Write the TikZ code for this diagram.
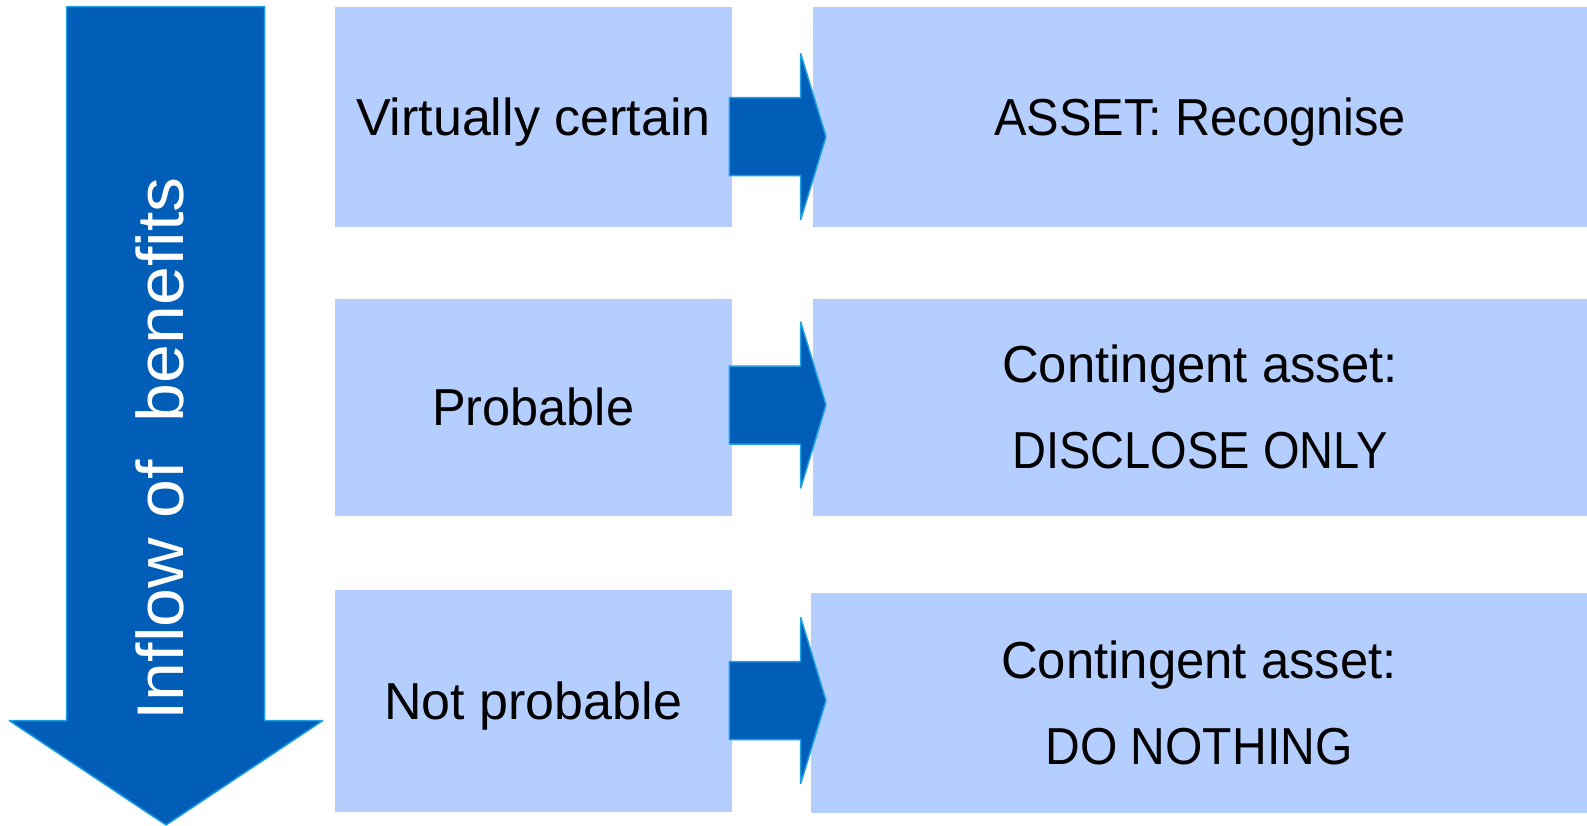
\documentclass[tikz,border=0pt]{standalone}
\usepackage{fontspec}
\setmainfont{Liberation Sans}
\definecolor{darkblue}{HTML}{005EB8}
\definecolor{edgeblue}{HTML}{1E9FE0}
\definecolor{lightbox}{HTML}{B4CFFF}
\newcommand{\narrow}[2]{\scalebox{#1}[1]{#2}}
\begin{document}
\begin{tikzpicture}[x=1pt,y=-1pt,
  box/.style={fill=lightbox, draw=none, inner sep=0pt, align=center,
    font=\fontsize{52}{86}\selectfont, text=black},
  oneline/.style={box, text height=37.2pt, text depth=0pt},
  blockarrow/.style={fill=darkblue, draw=edgeblue, line width=1.5pt, line join=round}]
\useasboundingbox (0,0) rectangle (1587,826);
% left boxes
\node[oneline, minimum width=396.7pt, minimum height=220pt] (l1) at (533.3,116.7) {Virtually certain};
\node[oneline, minimum width=396.7pt, minimum height=217.5pt] (l2) at (533.3,407.25) {\narrow{0.97}{Probable}};
\node[oneline, minimum width=396.7pt, minimum height=222pt] (l3) at (533.3,701) {Not probable};
% right boxes
\node[oneline, minimum width=774pt, minimum height=220pt] (r1) at (1200,116.7) {\narrow{0.9375}{ASSET: Recognise}};
\node[box, minimum width=774pt, minimum height=217.5pt] (r2) at (1200,407.25) {\narrow{0.977}{Contingent asset:}\\\narrow{0.904}{DISCLOSE ONLY}};
\node[box, minimum width=776pt, minimum height=219.7pt] (r3) at (1199,702.8) {\narrow{0.977}{Contingent asset:}\\\narrow{0.924}{DO NOTHING}};
% big down arrow
\draw[blockarrow] (66.7,6.7) -- (264.7,6.7) -- (264.7,720.7) -- (322.7,720.7) -- (166,825) -- (9.3,720.7) -- (66.7,720.7) -- cycle;
\node[rotate=90, text=white, inner sep=0pt, font=\fontsize{66}{70}\selectfont] (lab) at (160,449) {\scalebox{1.058}[1]{Inflow of\hspace{0.55em}benefits}};
% small arrows
\foreach \c/\n in {136.7/1, 405/2, 700.5/3}{
  \draw[blockarrow] (729.3,\c-39) -- (800.7,\c-39) -- (800.7,\c-83) -- (826,\c) -- (800.7,\c+83) -- (800.7,\c+39) -- (729.3,\c+39) -- cycle;
}
\end{tikzpicture}
\end{document}
